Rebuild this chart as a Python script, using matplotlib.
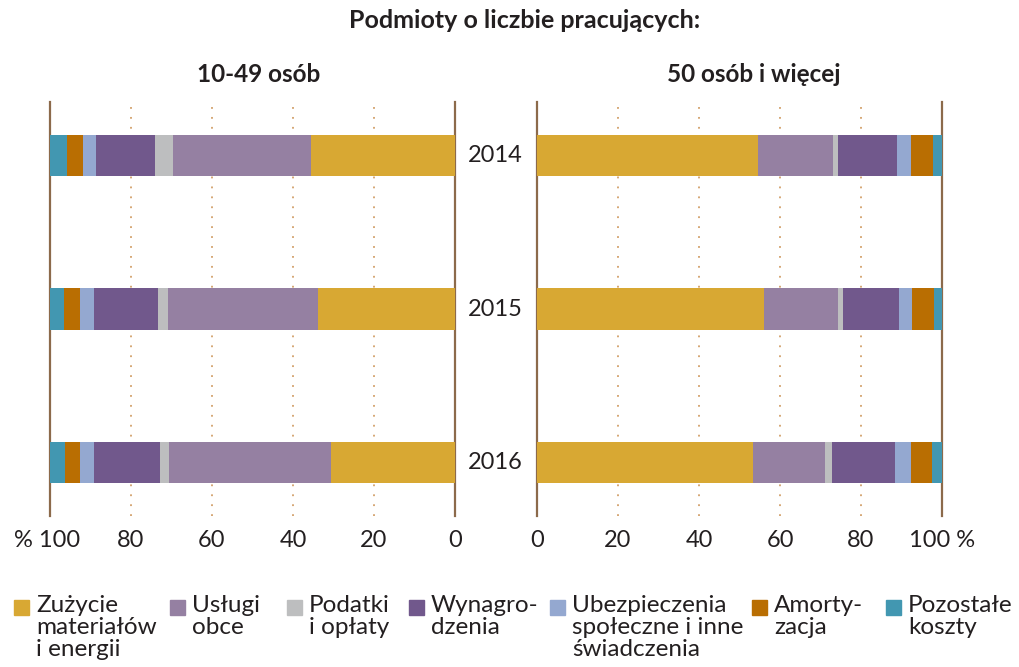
import matplotlib
matplotlib.use("Agg")
import matplotlib.pyplot as plt
from matplotlib.patches import Rectangle
import matplotlib.transforms as mtransforms
import numpy as np

plt.rcParams['font.family'] = ['Lato', 'DejaVu Sans']

years = ["2014", "2015", "2016"]
categories = ["Zużycie\nmateriałów\ni energii", "Usługi\nobce", "Podatki\ni opłaty",
              "Wynagro-\ndzenia", "Ubezpieczenia\nspołeczne i inne\nświadczenia",
              "Amorty-\nzacja", "Pozostałe\nkoszty"]
colors = ["#D8A833", "#9580A2", "#BDBEBF", "#71588C", "#94A8D0", "#B96E02", "#4297B1"]

# shares (%) for 10-49 persons, per year, per category
small_2014 = [35.6, 34.0, 4.4, 14.6, 3.3, 4.0, 4.1]
small_2015 = [33.9, 36.9, 2.5, 15.8, 3.5, 3.9, 3.5]
small_2016 = [30.7, 39.8, 2.3, 16.3, 3.5, 3.8, 3.6]
# shares (%) for 50+ persons
large_2014 = [54.6, 18.5, 1.2, 14.6, 3.5, 5.5, 2.1]
large_2015 = [56.1, 18.3, 1.2, 13.9, 3.2, 5.3, 2.0]
large_2016 = [53.4, 17.8, 1.7, 15.6, 3.9, 5.1, 2.5]

ticks = [0, 20, 40, 60, 80, 100]
left_ticklabels = ["0", "20", "40", "60", "80", "% 100 "]
right_ticklabels = ["0", "20", "40", "60", "80", "100 %"]

title = "Podmioty o liczbie pracujących:"
panel_titles = ["10-49 osób", "50 osób i więcej"]

W, H = 1020, 667
fig = plt.figure(figsize=(W / 100, H / 100), dpi=100)

spine_color = "#8C6A4B"
grid_color = "#D2A06A"
text_color = "#231F20"

def px_axes(x0, y0, x1, y1):
    return fig.add_axes([x0 / W, 1 - y1 / H, (x1 - x0) / W, (y1 - y0) / H])

ax_l = px_axes(50, 102, 455, 516)
ax_r = px_axes(537, 102, 942, 516)

data_sets = [[small_2014, small_2015, small_2016], [large_2014, large_2015, large_2016]]

for ax, data, tl in [(ax_l, data_sets[0], left_ticklabels), (ax_r, data_sets[1], right_ticklabels)]:
    arr = np.array(data)
    ypos = np.arange(len(years))
    left = np.zeros(len(years))
    for j in range(arr.shape[1]):
        ax.barh(ypos, arr[:, j], left=left, height=0.27, color=colors[j], zorder=3, linewidth=0)
        left += arr[:, j]
    ax.set_xlim(0, 100)
    ax.set_ylim(2.35, -0.35)
    ax.set_yticks([])
    ax.set_xticks(ticks)
    ax.set_xticklabels(tl, fontsize=17, color=text_color)
    ax.tick_params(axis='x', length=0, pad=10)
    for x in [20, 40, 60, 80]:
        ax.axvline(x, color=grid_color, linestyle=(0, (1, 4.5)), linewidth=1.3, zorder=1)
    for s in ["top", "bottom"]:
        ax.spines[s].set_visible(False)
    for s in ["left", "right"]:
        ax.spines[s].set_color(spine_color)
        ax.spines[s].set_linewidth(1.6)

ax_l.invert_xaxis()

trans = mtransforms.blended_transform_factory(ax_r.transAxes, ax_r.transData)
for i, yr in enumerate(years):
    ax_r.text(-0.102, i, yr, transform=trans, ha='center', va='center',
              fontsize=17, color=text_color)

fig.text(525 / W, 1 - 21 / H, title, ha='center', va='center', fontsize=18,
         fontweight='bold', color=text_color)
fig.text(259 / W, 1 - 74 / H, panel_titles[0], ha='center', va='center', fontsize=17.5,
         fontweight='bold', color=text_color)
fig.text(754 / W, 1 - 74 / H, panel_titles[1], ha='center', va='center', fontsize=17.5,
         fontweight='bold', color=text_color)

# legend
sq_x = [14, 170, 287, 409, 550, 752, 886]
sq = 15
for xs, lab, c in zip(sq_x, categories, colors):
    fig.patches.append(Rectangle((xs / W, 1 - 615 / H), sq / W, sq / H,
                                 transform=fig.transFigure, color=c, figure=fig))
    fig.text((xs + 22) / W, 1 - 595 / H, lab, ha='left', va='top', fontsize=17.5,
             color=text_color, linespacing=1.05)

fig.savefig("out.png", dpi=100)
